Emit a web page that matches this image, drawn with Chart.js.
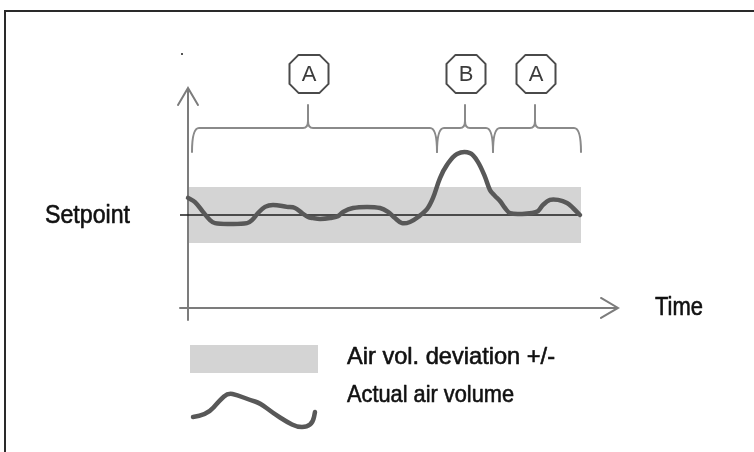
<!DOCTYPE html>
<html><head><meta charset="utf-8">
<script src="https://cdn.jsdelivr.net/npm/chart.js@4"></script>
<style>html,body{margin:0;padding:0;background:#fff}#wrap{width:754px;height:452px}</style>
</head><body><div id="wrap"><canvas id="c" width="754" height="452"></canvas></div>
<script>
// ---- data (time units, deviation from setpoint) ----
const timePoints = [0,7,15,22,27,42,59,64,70,77,85,99,107,114,120,125,132,142,150,155,165,179,192,200,207,214,222,230,239,245,252,259,269,282,290,297,302,307,312,317,322,334,344,350,355,362,370,379,385,392];
const airVolume  = [6.1,4.6,1.1,-1.8,-2.9,-3.2,-2.9,-1.8,0.7,2.9,3.6,2.9,2.5,0.7,-0.7,-1.1,-1.4,-1.1,-0.4,1.1,2.5,2.9,2.5,1.1,-1.1,-2.9,-2.5,-0.7,2.1,6.1,13.2,17.9,21.8,22.1,18.9,13.6,8.9,6.8,5.0,2.5,0.7,0.4,0.7,1.4,3.6,5.4,5.4,4.3,2.5,0];
const bandTimes = [1, 393];
const bandUpper = [10, 10];
const bandLower = [-10, -10];
const setpointTimes = [-8, 393];
const setpointValues = [0, 0];
const phaseBounds = [[4,249],[249,305],[305,393]];
const phaseMarks = [120, 277, 347];
const phaseLabels = ['A','B','A'];
const legendLabels = ['Air vol. deviation +/-','Actual air volume'];
const yAxisLabel = 'Setpoint';
const xAxisLabel = 'Time';

const toXY = (xs, ys) => xs.map((x,i)=>({x, y: ys[i]}));
const FONT = '"Liberation Sans", Arial, sans-serif';

function fitText(ctx, text, x, baseline, size, width) {
  ctx.font = size + 'px ' + FONT;
  const w = ctx.measureText(text).width;
  ctx.save();
  ctx.translate(x, baseline);
  ctx.scale(width / w, 1);
  ctx.textAlign = 'left';
  ctx.textBaseline = 'alphabetic';
  ctx.lineWidth = 0.6;
  ctx.strokeStyle = ctx.fillStyle;
  ctx.fillText(text, 0, 0);
  ctx.strokeText(text, 0, 0);
  ctx.restore();
}

const deco = {
  id: 'deco',
  beforeDatasetsDraw(chart) {
    const ctx = chart.ctx, xs = chart.scales.x, ys = chart.scales.y;
    const ax = xs.getPixelForValue(0);
    const ay = ys.getPixelForValue(-33.2);
    ctx.save();
    ctx.strokeStyle = '#7c7c7c';
    ctx.lineWidth = 2;
    ctx.lineCap = 'round';
    ctx.beginPath();
    ctx.moveTo(ax, chart.chartArea.bottom);
    ctx.lineTo(ax, chart.chartArea.top);
    ctx.moveTo(ax - 10, chart.chartArea.top + 17);
    ctx.lineTo(ax, chart.chartArea.top);
    ctx.lineTo(ax + 10, chart.chartArea.top + 17);
    ctx.stroke();
    ctx.beginPath();
    ctx.moveTo(chart.chartArea.left, ay);
    ctx.lineTo(chart.chartArea.right, ay);
    ctx.moveTo(chart.chartArea.right - 17, ay - 10);
    ctx.lineTo(chart.chartArea.right, ay);
    ctx.lineTo(chart.chartArea.right - 17, ay + 10);
    ctx.stroke();
    ctx.restore();
  },
  afterDraw(chart) {
    const ctx = chart.ctx, xs = chart.scales.x, ys = chart.scales.y;
    ctx.save();
    // frame
    ctx.strokeStyle = '#2a2a2a';
    ctx.lineWidth = 2;
    ctx.beginPath();
    ctx.moveTo(5, 452); ctx.lineTo(5, 11); ctx.lineTo(754, 11);
    ctx.stroke();
    ctx.fillStyle = '#555';
    ctx.fillRect(181, 53, 2, 2);

    // braces
    const yBar = ys.getPixelForValue(31.1);
    const yBot = ys.getPixelForValue(22.5);
    const yTop = ys.getPixelForValue(39.3);
    ctx.strokeStyle = '#8a8a8a';
    ctx.lineWidth = 2;
    ctx.lineJoin = 'round';
    ctx.lineCap = 'round';
    phaseBounds.forEach((b, i) => {
      const x0 = xs.getPixelForValue(b[0]);
      const x1 = xs.getPixelForValue(b[1]);
      const xm = xs.getPixelForValue(phaseMarks[i]);
      ctx.beginPath();
      ctx.moveTo(x0, yBot);
      ctx.quadraticCurveTo(x0, yBar, x0 + 7, yBar);
      ctx.lineTo(xm - 5, yBar);
      ctx.quadraticCurveTo(xm, yBar, xm, yBar - 7);
      ctx.lineTo(xm, yTop);
      ctx.moveTo(x1, yBot);
      ctx.quadraticCurveTo(x1, yBar, x1 - 7, yBar);
      ctx.lineTo(xm + 5, yBar);
      ctx.quadraticCurveTo(xm, yBar, xm, yBar - 7);
      ctx.stroke();
    });

    // label boxes
    const yc = ys.getPixelForValue(50.4);
    phaseLabels.forEach((lab, i) => {
      const xc = xs.getPixelForValue(phaseMarks[i]) + 1;
      const w = 39, h = 38, c = 9;
      const l = xc - w/2, r = xc + w/2, t = yc - h/2, bt = yc + h/2;
      ctx.beginPath();
      ctx.moveTo(l + c, t); ctx.lineTo(r - c, t); ctx.lineTo(r, t + c);
      ctx.lineTo(r, bt - c); ctx.lineTo(r - c, bt); ctx.lineTo(l + c, bt);
      ctx.lineTo(l, bt - c); ctx.lineTo(l, t + c); ctx.closePath();
      ctx.fillStyle = '#fff';
      ctx.fill();
      ctx.strokeStyle = '#4a4a4a';
      ctx.lineWidth = 2;
      ctx.stroke();
      ctx.fillStyle = '#3c3c3c';
      ctx.font = '22px ' + FONT;
      ctx.textAlign = 'center';
      ctx.textBaseline = 'middle';
      ctx.fillText(lab, xc, yc + 1);
    });

    // axis labels
    ctx.fillStyle = '#111';
    fitText(ctx, yAxisLabel, 45, 223, 26, 85);
    fitText(ctx, xAxisLabel, 655, 315, 26, 48);

    // legend
    ctx.fillStyle = '#d4d4d4';
    ctx.fillRect(190, 345, 128, 28);
    const icon = [[193,417],[207,415],[220,400],[228,393],[237,395],[250,400],[260,403],[273,413],[287,422],[297,427],[307,427],[313,422],[315,412]];
    ctx.strokeStyle = '#585858';
    ctx.lineWidth = 4.5;
    ctx.lineJoin = 'round';
    ctx.beginPath();
    ctx.moveTo(icon[0][0], icon[0][1]);
    for (let i = 1; i < icon.length - 1; i++) {
      const mx = (icon[i][0] + icon[i+1][0]) / 2, my = (icon[i][1] + icon[i+1][1]) / 2;
      ctx.quadraticCurveTo(icon[i][0], icon[i][1], mx, my);
    }
    ctx.lineTo(icon[icon.length-1][0], icon[icon.length-1][1]);
    ctx.stroke();
    ctx.fillStyle = '#111';
    fitText(ctx, legendLabels[0], 347, 364, 24, 208);
    fitText(ctx, legendLabels[1], 347, 402, 24, 167);
    ctx.restore();
  }
};

new Chart(document.getElementById('c'), {
  type: 'line',
  data: {
    datasets: [
      { label: 'Actual air volume', data: toXY(timePoints, airVolume), borderColor: '#585858', borderWidth: 4.5, tension: 0.35, pointRadius: 0, fill: false, order: 0, borderCapStyle: 'round', borderJoinStyle: 'round' },
      { label: 'Setpoint', data: toXY(setpointTimes, setpointValues), borderColor: '#1e1e1e', borderWidth: 1.6, pointRadius: 0, fill: false, order: 1 },
      { label: 'Air vol. deviation +/-', data: toXY(bandTimes, bandUpper), borderWidth: 0, borderColor: 'rgba(0,0,0,0)', backgroundColor: '#d4d4d4', pointRadius: 0, fill: '+1', order: 2 },
      { label: 'lower', data: toXY(bandTimes, bandLower), borderWidth: 0, borderColor: 'rgba(0,0,0,0)', pointRadius: 0, fill: false, order: 3 }
    ]
  },
  options: {
    responsive: false,
    animation: false,
    devicePixelRatio: 1,
    layout: { padding: { left: 180, right: 136, top: 88, bottom: 132 } },
    scales: {
      x: { type: 'linear', min: -8, max: 430, display: false },
      y: { type: 'linear', min: -37.5, max: 45.357, display: false }
    },
    plugins: { legend: { display: false }, tooltip: { enabled: false } }
  },
  plugins: [deco]
});
</script>
</body></html>
